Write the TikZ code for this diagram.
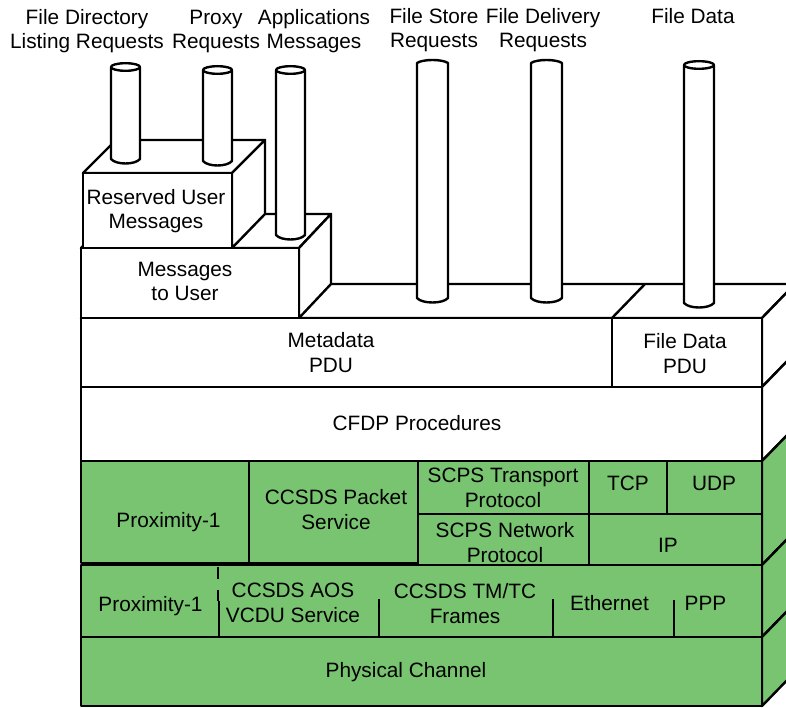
\documentclass[tikz,border=0pt]{standalone}
\usepackage{fontspec}
\setmainfont{Liberation Sans}
\definecolor{lgreen}{RGB}{120,196,112}
\newcommand\pipeE[4]{%
  \fill[white] (#1,#3) -- (#1,#4) .. controls (#1+5,#4+6) and (#2-5,#4+6) .. (#2,#4) -- (#2,#3) -- cycle;
  \draw[ln] (#1,#3) -- (#1,#4) .. controls (#1+5,#4+6) and (#2-5,#4+6) .. (#2,#4) -- (#2,#3);
  \filldraw[face] ({(#1+#2)/2},#3) ellipse [x radius={(#2-#1)/2}, y radius=3.8];
}
\newcommand\pipeA[4]{%
  \filldraw[face] (#1,#3) .. controls (#1+6,#3-4) and (#2-6,#3-4) .. (#2,#3) -- (#2,#4) .. controls (#2-5,#4+6) and (#1+5,#4+6) .. (#1,#4) -- cycle;
}
\begin{document}
\begin{tikzpicture}[x=1pt,y=-1pt,
  ln/.style={line width=2.4pt, line join=round},
  face/.style={ln, fill=white},
  gface/.style={ln, fill=lgreen},
  lbl/.style={font=\fontsize{20.8}{24.5}\selectfont, align=center, anchor=base, inner sep=0pt},
]
\useasboundingbox (0,0) rectangle (786,708);
\clip (0,0) rectangle (786,708);

% ---- stack top face (Metadata + File Data PDU)
\filldraw[face] (81,318) -- (114,284) -- (795,284) -- (762,318) -- cycle;
\draw[ln] (612,318) -- (645,284);

% ---- right side faces
\filldraw[face]  (762,318) -- (795,284) -- (795,353) -- (762,387) -- cycle;
\filldraw[face]  (762,387) -- (795,353) -- (795,427) -- (762,461) -- cycle;
\filldraw[gface] (762,461) -- (795,427) -- (795,531) -- (762,565) -- cycle;
\filldraw[gface] (762,565) -- (795,531) -- (795,603) -- (762,637) -- cycle;
\filldraw[gface] (762,637) -- (795,603) -- (795,672) -- (762,706) -- cycle;

% ---- Messages to User box: top and right faces
\filldraw[face] (81,248) -- (114,214) -- (331,214) -- (299,248) -- cycle;
\filldraw[face] (299,248) -- (331,214) -- (331,284) -- (299,318) -- cycle;

% ---- pipes standing on the stack top
\pipeA{417}{448}{63}{298}
\pipeA{531}{562}{63}{298}
\pipeE{684}{714}{65}{303}
% pipe on Messages to User
\pipeE{276}{305}{70}{235}

% ---- Reserved User Messages box
\filldraw[face] (83,173) -- (116,140) -- (265,140) -- (232,173) -- cycle;
\filldraw[face] (232,173) -- (265,140) -- (265,214) -- (232,248) -- cycle;
\pipeE{111}{140}{67}{159}
\pipeE{203}{232}{70}{161}
\filldraw[face] (83,173) rectangle (232,248);

% ---- front faces
\filldraw[face] (81,248) rectangle (299,318);
\filldraw[face] (81,318) rectangle (612,387);
\filldraw[face] (612,318) rectangle (762,387);
\filldraw[face] (81,387) rectangle (762,461);

% network row
\filldraw[gface] (81,461) rectangle (249,563);
\filldraw[gface] (249,461) rectangle (418,563);
\filldraw[gface] (418,461) rectangle (589,514);
\filldraw[gface] (418,514) rectangle (589,565);
\filldraw[gface] (589,461) rectangle (667,514);
\filldraw[gface] (667,461) rectangle (762,514);
\filldraw[gface] (589,514) rectangle (762,565);

% data link row
\filldraw[gface] (81,565) rectangle (762,637);
\draw[ln, dash pattern=on 12pt off 11pt] (218,567) -- (218,601);
\draw[ln] (219,601) -- (219,637);
\draw[ln] (379,599) -- (379,637);
\draw[ln] (553,599) -- (553,637);
\draw[ln] (674,600) -- (674,637);

% physical
\filldraw[gface] (81,637) rectangle (762,706);

% ---- labels (base anchor = baseline of the last line)
\node[lbl] (lFDL) at (87,49)  {File Directory\\Listing Requests};
\node[lbl] (lPR)  at (216,49) {Proxy\\Requests};
\node[lbl] (lAM)  at (314,49) {Applications\\Messages};
\node[lbl] (lFS)  at (434,48) {File Store\\Requests};
\node[lbl] (lFD)  at (543,48) {File Delivery\\Requests};
\node[lbl] (lFDa) at (693,24) {File Data};

\node[lbl] (nRUM)  at (156,229) {Reserved User\\Messages};
\node[lbl] (nMU)   at (185,301) {Messages\\to User};
\node[lbl] (nMeta) at (331,372) {Metadata\\PDU};
\node[lbl] (nFDP)  at (685,373) {File Data\\PDU};
\node[lbl] (nCFDP) at (417,430) {CFDP Procedures};

\node[lbl] (nProx1) at (168.5,527) {Proximity-1};
\node[lbl] (nCPS)   at (336,529)   {CCSDS Packet\\Service};
\node[lbl] (nSTP)   at (503,507)   {SCPS Transport\\Protocol};
\node[lbl] (nTCP)   at (628,490)   {TCP};
\node[lbl] (nUDP)   at (714,490)   {UDP};
\node[lbl] (nSNP)   at (505,562)   {SCPS Network\\Protocol};
\node[lbl] (nIP)    at (668,552)   {IP};

\node[lbl] (nProx2) at (150.5,611) {Proximity-1};
\node[lbl] (nAOS)   at (293,622)   {CCSDS AOS\\VCDU Service};
\node[lbl] (nTMTC)  at (465,623)   {CCSDS TM/TC\\Frames};
\node[lbl] (nEth)   at (609.5,610) {Ethernet};
\node[lbl] (nPPP)   at (705.5,610) {PPP};

\node[lbl] (nPhys)  at (406,677)   {Physical Channel};
\end{tikzpicture}
\end{document}
